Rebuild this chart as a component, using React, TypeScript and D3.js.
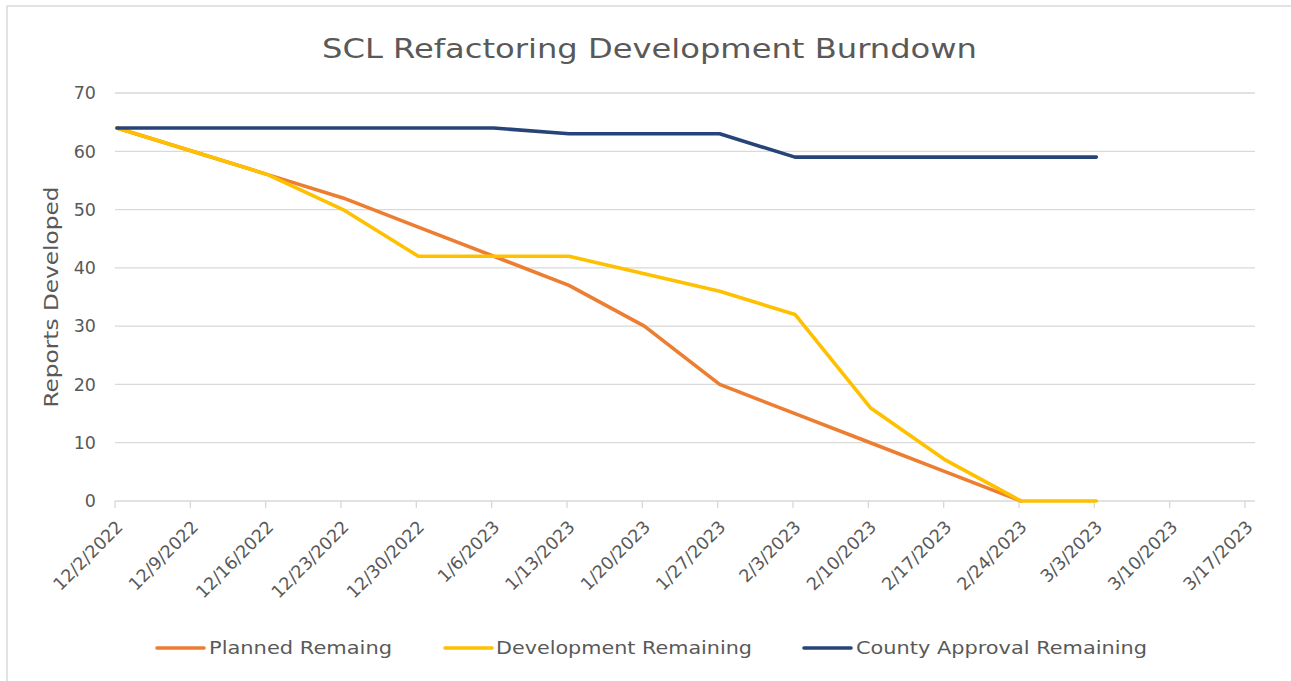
import React from 'react';
import * as d3 from 'd3';

const dateStrings = [
  '2022-12-02', '2022-12-09', '2022-12-16', '2022-12-23', '2022-12-30',
  '2023-01-06', '2023-01-13', '2023-01-20', '2023-01-27', '2023-02-03',
  '2023-02-10', '2023-02-17', '2023-02-24', '2023-03-03', '2023-03-10', '2023-03-17',
];
const tickLabels = [
  '12/2/2022', '12/9/2022', '12/16/2022', '12/23/2022', '12/30/2022',
  '1/6/2023', '1/13/2023', '1/20/2023', '1/27/2023', '2/3/2023',
  '2/10/2023', '2/17/2023', '2/24/2023', '3/3/2023', '3/10/2023', '3/17/2023',
];
const plannedRemaining = [64, 60, 56, 52, 47, 42, 37, 30, 20, 15, 10, 5, 0];
const developmentRemaining = [64, 60, 56, 50, 42, 42, 42, 39, 36, 32, 16, 7, 0, 0];
const countyApprovalRemaining = [64, 64, 64, 64, 64, 64, 63, 63, 63, 59, 59, 59, 59, 59];
const yTicks = [0, 10, 20, 30, 40, 50, 60, 70];

const seriesNames = ['Planned Remaing', 'Development Remaining', 'County Approval Remaining'];
const seriesColors = ['#ED7D31', '#FFC000', '#264478'];

const FONT = "'DejaVu Sans', 'Lato', sans-serif";
const TEXT = '#595959';
const GRID = '#d9d9d9';

export default function App() {
  const parse = d3.utcParse('%Y-%m-%d');
  const dates = dateStrings.map((s) => parse(s) as Date);

  const left = 115;
  const right = 1245;
  const axisEnd = 1255;
  const top = 93;
  const bottom = 501;

  const x = d3.scaleUtc().domain([dates[0], dates[dates.length - 1]]).range([left, right]);
  const y = d3.scaleLinear().domain([0, 70]).range([bottom, top]);

  const line = d3
    .line<number>()
    .x((_, i) => x(dates[i]) + 2)
    .y((d) => y(d));

  const series = [plannedRemaining, developmentRemaining, countyApprovalRemaining];

  const legendItems = [
    { lineX: 157, textX: 209, width: 183 },
    { lineX: 445, textX: 496, width: 256 },
    { lineX: 804, textX: 856, width: 291 },
  ];

  return (
    <svg
      width={1291}
      height={681}
      style={{ position: 'absolute', left: 0, top: 0, background: '#fff' }}
    >
      <rect x={7} y={6} width={1300} height={700} fill="#fff" stroke={GRID} strokeWidth={1.5} />
      <text
        x={649.5}
        y={58}
        textAnchor="middle"
        fontFamily={FONT}
        fontSize={26}
        fill={TEXT}
        textLength={655}
        lengthAdjust="spacingAndGlyphs"
      >
        SCL Refactoring Development Burndown
      </text>

      {yTicks.map((t) => (
        <g key={t}>
          <line x1={left} x2={axisEnd} y1={y(t)} y2={y(t)} stroke={GRID} strokeWidth={1.3} />
          <text
            x={96}
            y={y(t)}
            dy="0.36em"
            textAnchor="end"
            fontFamily={FONT}
            fontSize={17.5}
            fill={TEXT}
          >
            {t}
          </text>
        </g>
      ))}

      {dates.map((d, i) => (
        <g key={i}>
          <line x1={x(d)} x2={x(d)} y1={bottom} y2={bottom + 7} stroke={GRID} strokeWidth={1.3} />
          <text
            transform={`translate(${x(d) + 9},${bottom + 27}) rotate(-45)`}
            textAnchor="end"
            fontFamily={FONT}
            fontSize={17.5}
            fill={TEXT}
          >
            {tickLabels[i]}
          </text>
        </g>
      ))}

      <text
        transform={`translate(58,297) rotate(-90)`}
        textAnchor="middle"
        fontFamily={FONT}
        fontSize={19}
        fill={TEXT}
        textLength={221}
        lengthAdjust="spacingAndGlyphs"
      >
        Reports Developed
      </text>

      {series.map((s, i) => (
        <path
          key={i}
          d={line(s) || ''}
          fill="none"
          stroke={seriesColors[i]}
          strokeWidth={3.6}
          strokeLinejoin="round"
          strokeLinecap="round"
        />
      ))}

      {legendItems.map((it, i) => (
        <g key={i}>
          <line
            x1={it.lineX}
            x2={it.lineX + 47}
            y1={648}
            y2={648}
            stroke={seriesColors[i]}
            strokeWidth={3.6}
            strokeLinecap="round"
          />
          <text
            x={it.textX}
            y={654}
            fontFamily={FONT}
            fontSize={18}
            fill={TEXT}
            textLength={it.width}
            lengthAdjust="spacingAndGlyphs"
          >
            {seriesNames[i]}
          </text>
        </g>
      ))}
    </svg>
  );
}
